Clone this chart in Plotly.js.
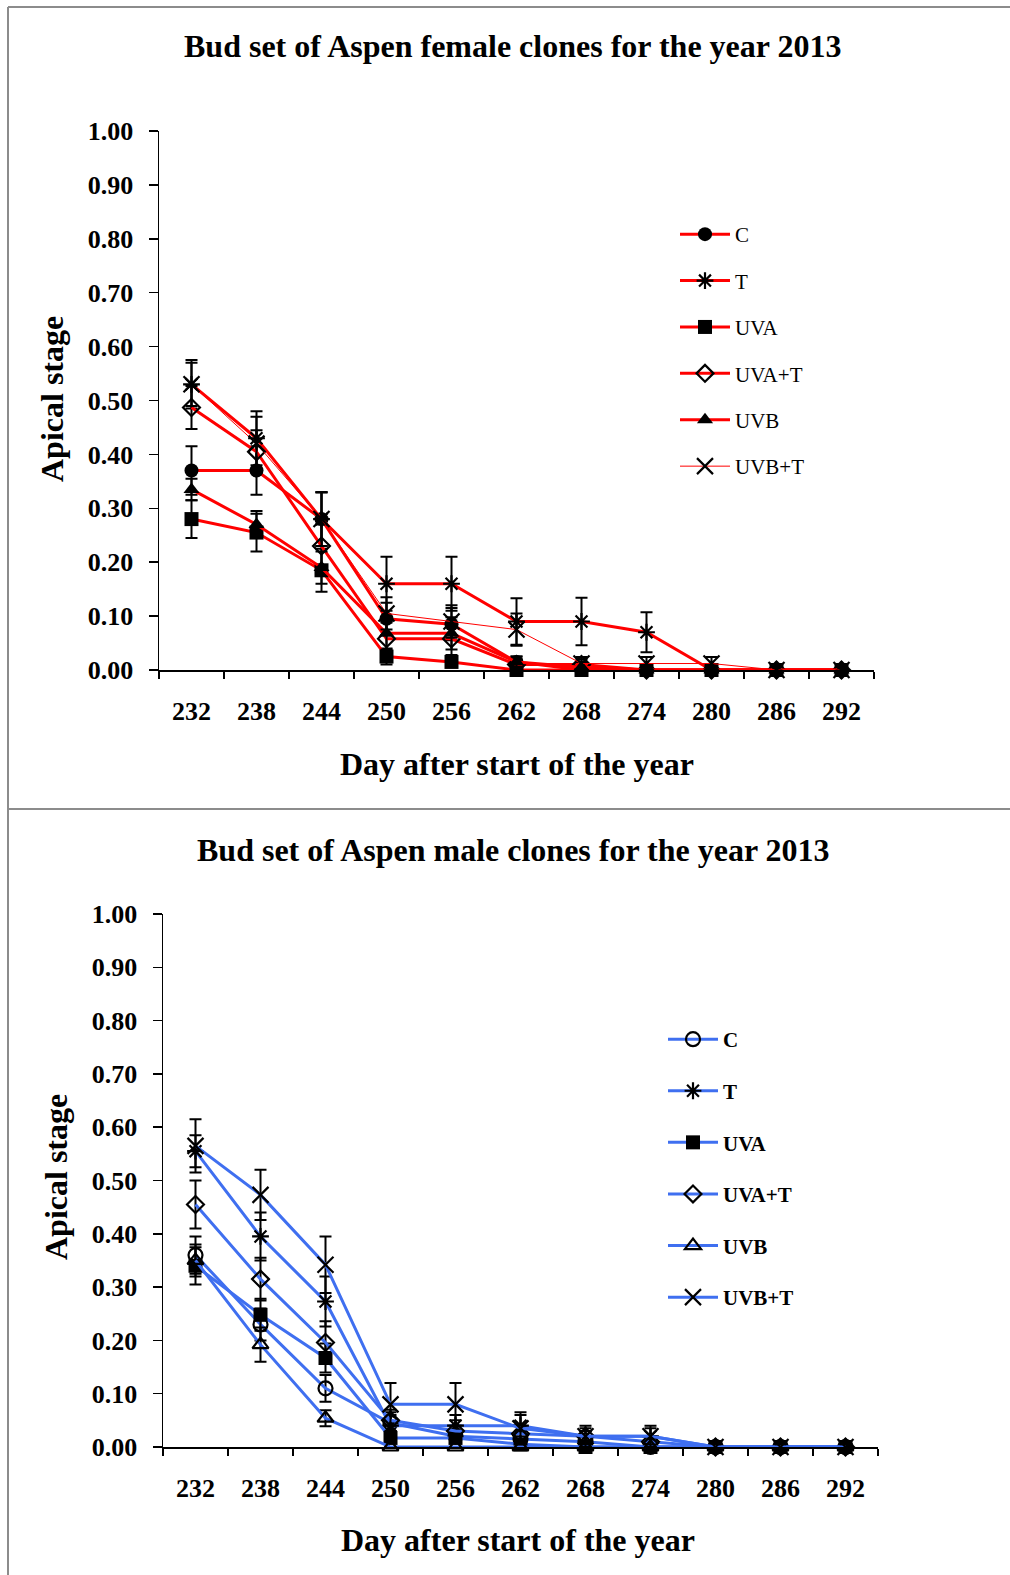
<!DOCTYPE html>
<html>
<head>
<meta charset="utf-8">
<script src="https://cdn.plot.ly/plotly-3.0.1.min.js"></script>
<style>html,body{margin:0;padding:0;background:#fff;}#chart{width:1010px;height:1575px;}</style>
</head>
<body>
<div id="chart"></div>
<script>
// ---- data ----
const days = ['232','238','244','250','256','262','268','274','280','286','292'];
const seriesNames = ['C','T','UVA','UVA+T','UVB','UVB+T'];

// Female clones (top panel)
const femaleC     = [0.37, 0.37, 0.28, 0.095, 0.085, 0.015, 0, 0, 0, 0, 0];
const femaleT     = [0.53, 0.43, 0.28, 0.16, 0.16, 0.09, 0.09, 0.07, 0, 0, 0];
const femaleUVA   = [0.28, 0.255, 0.185, 0.025, 0.015, 0, 0, 0, 0, 0, 0];
const femaleUVAT  = [0.487, 0.405, 0.23, 0.058, 0.058, 0.01, 0.01, 0, 0, 0, 0];
const femaleUVB   = [0.335, 0.27, 0.19, 0.068, 0.068, 0.015, 0.005, 0, 0, 0, 0];
const femaleUVBT  = [0.53, 0.42, 0.28, 0.105, 0.09, 0.075, 0.012, 0.012, 0.012, 0, 0];

const femaleC_err    = [0.045, 0.045, 0.05, 0.03, 0.03, 0.01, 0, 0, 0, 0, 0];
const femaleT_err    = [0.045, 0.05, 0.05, 0.05, 0.05, 0.043, 0.044, 0.037, 0, 0, 0];
const femaleUVA_err  = [0.035, 0.035, 0.04, 0.015, 0.01, 0, 0, 0, 0, 0, 0];
const femaleUVAT_err = [0.04, 0.04, 0.04, 0.03, 0.03, 0.01, 0.01, 0.01, 0, 0, 0];
const femaleUVB_err  = [0.02, 0.025, 0.03, 0.03, 0.03, 0.01, 0.01, 0, 0, 0, 0];
const femaleUVBT_err = [0.04, 0.05, 0.05, 0.03, 0.03, 0.03, 0.012, 0.012, 0.012, 0, 0];

// Male clones (bottom panel)
const maleC     = [0.36, 0.23, 0.11, 0.045, 0.02, 0.015, 0.01, 0, 0, 0, 0];
const maleT     = [0.555, 0.395, 0.273, 0.04, 0.04, 0.04, 0.02, 0.02, 0, 0, 0];
const maleUVA   = [0.34, 0.248, 0.167, 0.017, 0.017, 0.005, 0, 0, 0, 0, 0];
const maleUVAT  = [0.455, 0.315, 0.196, 0.05, 0.03, 0.025, 0.02, 0.01, 0, 0, 0];
const maleUVB   = [0.35, 0.192, 0.054, 0, 0, 0, 0, 0, 0, 0, 0];
const maleUVBT  = [0.565, 0.473, 0.342, 0.08, 0.08, 0.035, 0.02, 0.02, 0, 0, 0];

const maleC_err    = [0.035, 0.03, 0.025, 0.02, 0.01, 0.01, 0.01, 0, 0, 0, 0];
const maleT_err    = [0.03, 0.045, 0.047, 0.02, 0.02, 0.02, 0.015, 0.015, 0, 0, 0];
const maleUVA_err  = [0.035, 0.03, 0.027, 0.01, 0.01, 0.005, 0, 0, 0, 0, 0];
const maleUVAT_err = [0.045, 0.04, 0.04, 0.02, 0.02, 0.015, 0.01, 0.01, 0, 0, 0];
const maleUVB_err  = [0.03, 0.032, 0.015, 0, 0, 0, 0, 0, 0, 0, 0];
const maleUVBT_err = [0.05, 0.047, 0.053, 0.04, 0.04, 0.03, 0.02, 0.02, 0, 0, 0];

const yTickVals = [0, 0.1, 0.2, 0.3, 0.4, 0.5, 0.6, 0.7, 0.8, 0.9, 1.0];

// ---- styles ----
const W = 1010, H = 1575;
const px = v => v / W;
const py = v => 1 - v / H;
const SERIF = 'Liberation Serif, Times New Roman, serif';
const RED = '#ff0000';
const BLUE = '#3f6ff0';

const femaleSym = ['circle','asterisk-open','square','diamond-open','triangle-up','x-thin-open'];
const maleSym   = ['circle-open','asterisk-open','square','diamond-open','triangle-up-open','x-thin-open'];
const femaleVals = [femaleC, femaleT, femaleUVA, femaleUVAT, femaleUVB, femaleUVBT];
const femaleErrs = [femaleC_err, femaleT_err, femaleUVA_err, femaleUVAT_err, femaleUVB_err, femaleUVBT_err];
const maleVals = [maleC, maleT, maleUVA, maleUVAT, maleUVB, maleUVBT];
const maleErrs = [maleC_err, maleT_err, maleUVA_err, maleUVAT_err, maleUVB_err, maleUVBT_err];

function markerFor(sym){
  const open = sym.indexOf('open') >= 0;
  let size = 14;
  if (sym.startsWith('x')) size = 16;
  if (sym.startsWith('asterisk')) size = 14;
  if (sym.startsWith('diamond')) size = 13;
  return {symbol: sym, size: size, color: '#000',
          line: {color: '#000', width: open ? 2.2 : 0}};
}

const traces = [];
seriesNames.forEach((name, i) => {
  traces.push({
    type: 'scatter', mode: 'lines+markers', name: name,
    x: days, y: femaleVals[i], xaxis: 'x', yaxis: 'y',
    legend: 'legend', legendgroup: 'f' + i,
    line: {color: RED, width: name === 'UVB+T' ? 1 : 3},
    marker: markerFor(femaleSym[i]),
    error_y: {type: 'data', array: femaleErrs[i], visible: true, color: '#000', thickness: 2, width: 6},
    cliponaxis: false
  });
});
seriesNames.forEach((name, i) => {
  traces.push({
    type: 'scatter', mode: 'lines+markers', name: name,
    x: days, y: maleVals[i], xaxis: 'x2', yaxis: 'y2',
    legend: 'legend2', legendgroup: 'm' + i,
    line: {color: BLUE, width: 3},
    marker: markerFor(maleSym[i]),
    error_y: {type: 'data', array: maleErrs[i], visible: true, color: '#000', thickness: 2, width: 6},
    cliponaxis: false
  });
});

const tickFont = {family: SERIF, size: 26, color: '#000', weight: 'bold'};
function xAxis(domain, anchor){
  return {type: 'category', domain: domain, anchor: anchor, range: [-0.5, 10.5],
    showline: true, linecolor: '#000', linewidth: 1.5, ticks: 'outside', tickson: 'boundaries',
    ticklen: 7, tickcolor: '#000', tickwidth: 1.5, tickfont: tickFont, ticklabelstandoff: 17,
    showgrid: false, zeroline: false, fixedrange: true};
}
function yAxis(domain, anchor){
  return {domain: domain, anchor: anchor, range: [0, 1], tickvals: yTickVals, tickformat: '.2f',
    showline: true, linecolor: '#000', linewidth: 1.5, ticks: 'outside', ticklen: 9,
    tickcolor: '#000', tickwidth: 1.5, tickfont: tickFont, ticklabelstandoff: 10,
    showgrid: false, zeroline: false, fixedrange: true};
}

const titleFont = {family: SERIF, size: 32, color: '#000', weight: 'bold'};
const axTitleFont = {family: SERIF, size: 32, color: '#000', weight: 'bold'};
function ann(text, x, y, font, angle){
  return {text: text, xref: 'paper', yref: 'paper', x: px(x), y: py(y),
    xanchor: 'center', yanchor: 'middle', showarrow: false, font: font, textangle: angle || 0};
}

const frameLine = {color: '#8c8c8c', width: 2};
const layout = {
  width: W, height: H,
  margin: {l: 0, r: 0, t: 0, b: 0},
  paper_bgcolor: '#fff', plot_bgcolor: 'rgba(0,0,0,0)',
  showlegend: true,
  xaxis: xAxis([px(159), px(874)], 'y'),
  yaxis: yAxis([1 - 670 / H, 1 - 131 / H], 'x'),
  xaxis2: xAxis([px(163), px(878)], 'y2'),
  yaxis2: yAxis([1 - 1447 / H, 1 - 914 / H], 'x2'),
  legend: {x: px(675), y: py(214), xanchor: 'left', yanchor: 'top', traceorder: 'grouped',
    tracegroupgap: 16.1, bgcolor: 'rgba(0,0,0,0)', itemwidth: 50,
    font: {family: SERIF, size: 21, color: '#000'}},
  legend2: {x: px(663), y: py(1019), xanchor: 'left', yanchor: 'top', traceorder: 'grouped',
    tracegroupgap: 21.3, bgcolor: 'rgba(0,0,0,0)', itemwidth: 50,
    font: {family: SERIF, size: 21, color: '#000', weight: 'bold'}},
  annotations: [
    ann('Bud set of Aspen female clones for the year 2013', 512, 46, titleFont),
    ann('Day after start of the year', 517, 764, axTitleFont),
    ann('Apical stage', 52, 399, axTitleFont, -90),
    ann('Bud set of Aspen male clones for the year 2013', 513, 850, titleFont),
    ann('Day after start of the year', 518, 1540, axTitleFont),
    ann('Apical stage', 56, 1177, axTitleFont, -90)
  ],
  shapes: [
    {type: 'line', xref: 'paper', yref: 'paper', x0: px(8), x1: 1, y0: py(7), y1: py(7), line: frameLine},
    {type: 'line', xref: 'paper', yref: 'paper', x0: px(8), x1: px(8), y0: py(7), y1: 0, line: frameLine},
    {type: 'line', xref: 'paper', yref: 'paper', x0: px(8), x1: 1, y0: py(809), y1: py(809), line: frameLine}
  ]
};

Plotly.newPlot('chart', traces, layout, {displayModeBar: false, staticPlot: true});
</script>
</body>
</html>
